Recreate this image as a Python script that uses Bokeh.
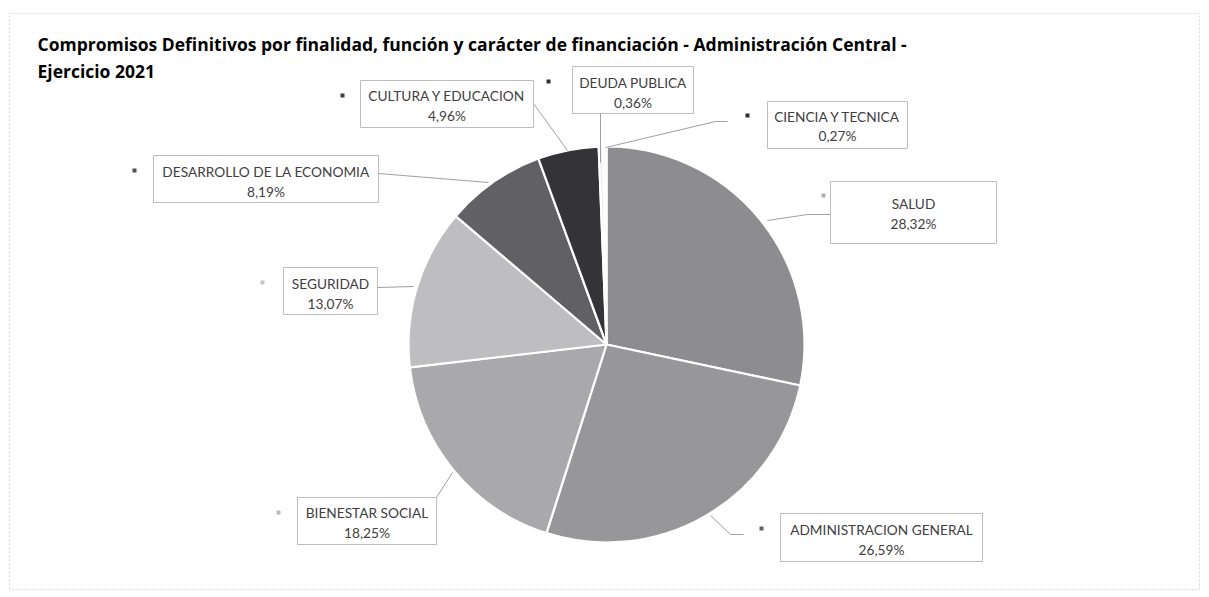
import numpy as np
from bokeh.plotting import figure
from bokeh.models import Range1d, ColumnDataSource
from bokeh.core.properties import value
from bokeh.embed import file_html
from bokeh.resources import INLINE

# ---------------- data ----------------
categories = ["SALUD", "ADMINISTRACION GENERAL", "BIENESTAR SOCIAL", "SEGURIDAD",
              "DESARROLLO DE LA ECONOMIA", "CULTURA Y EDUCACION", "DEUDA PUBLICA",
              "CIENCIA Y TECNICA"]
shares = [28.32, 26.59, 18.25, 13.07, 8.19, 4.96, 0.36, 0.27]
title_lines = ["Compromisos Definitivos por finalidad, función y carácter de financiación - Administración Central -",
               "Ejercicio 2021"]

# ---------------- style ----------------
slice_colors = ["#8d8d90", "#97979a", "#a9a9ab", "#bebec0", "#616165", "#333338", "#ececec", "#f4f4f4"]
key_colors = ["#b0b0b0", "#606060", "#b8b8b8", "#c4c4c4", "#505050", "#404040", "#303030", "#303030"]

W, H = 1200, 592
def X(px):
    return px
def Y(py):
    return H - py

# label layout in page pixels: box (left, right, top, bottom), text rows, key, leader
layout = {
    "SALUD": dict(box=(830, 996, 181, 243), rows=(203, 223), key=(823, 195),
                  leader=[(830, 214), (807, 214), (767, 220)]),
    "ADMINISTRACION GENERAL": dict(box=(780, 982, 513, 561), rows=(529, 549), key=(761, 528),
                                   leader=[(743, 534), (730, 534), (710, 515)]),
    "BIENESTAR SOCIAL": dict(box=(297, 436, 497, 544), rows=(512, 532), key=(278, 512),
                             leader=[(436, 497), (452, 472)]),
    "SEGURIDAD": dict(box=(283, 377, 267, 314), rows=(283, 303), key=(262, 282),
                      leader=[(377, 287), (413, 286)]),
    "DESARROLLO DE LA ECONOMIA": dict(box=(153, 378, 155, 202), rows=(171, 191), key=(134, 170),
                                      leader=[(378, 173), (488, 182)]),
    "CULTURA Y EDUCACION": dict(box=(360, 533, 80, 127), rows=(95, 115), key=(342, 95),
                                leader=[(533, 103), (567, 150)]),
    "DEUDA PUBLICA": dict(box=(572, 693, 66, 113), rows=(82, 102), key=(548, 81),
                          leader=[(600, 113), (600, 162)]),
    "CIENCIA Y TECNICA": dict(box=(767, 907, 101, 148), rows=(116, 135), key=(747, 115),
                              leader=[(727, 121), (715, 121), (605, 147)]),
}

p = figure(width=W, height=H, output_backend="svg", toolbar_location=None,
           x_range=Range1d(0, W), y_range=Range1d(0, H),
           x_axis_type=None, y_axis_type=None, min_border=0)
p.grid.visible = False
p.outline_line_color = None
p.background_fill_color = "white"

# chart frame
p.quad(left=[X(9)], right=[X(1199)], top=[Y(13)], bottom=[Y(589)],
       fill_color=None, line_color="#d6d6d6", line_width=1, line_dash="2 2")

# pie
total = float(sum(shares))
cum = np.concatenate([[0.0], np.cumsum(shares)]) / total
cx, cy, r = X(606), Y(344), 198
src = ColumnDataSource(dict(
    cat=categories,
    start=[np.pi / 2 - 2 * np.pi * cum[i + 1] for i in range(len(shares))],
    end=[np.pi / 2 - 2 * np.pi * cum[i] for i in range(len(shares))],
    color=slice_colors,
))
p.wedge(x=cx, y=cy, radius=r, start_angle="start", end_angle="end",
        direction="anticlock", fill_color="color", line_color="white", line_width=2.2,
        source=src)

# leader lines
xs, ys = [], []
for c in categories:
    pts = layout[c]["leader"]
    xs.append([X(a) for a, b in pts])
    ys.append([Y(b) for a, b in pts])
p.multi_line(xs=xs, ys=ys, line_color="#a0a0a0", line_width=1)

# label boxes
lb = dict(left=[], right=[], top=[], bottom=[], cx=[], y1=[], y2=[], kx=[], ky=[],
          name=[], val=[], kc=[])
for c, v, kc in zip(categories, shares, key_colors):
    L = layout[c]
    l, rr, t, b = L["box"]
    lb["left"].append(X(l)); lb["right"].append(X(rr))
    lb["top"].append(Y(t)); lb["bottom"].append(Y(b))
    lb["cx"].append(X((l + rr) / 2))
    lb["y1"].append(Y(L["rows"][0])); lb["y2"].append(Y(L["rows"][1]))
    lb["kx"].append(X(L["key"][0])); lb["ky"].append(Y(L["key"][1]))
    lb["name"].append(c)
    lb["val"].append(f"{v:.2f}".replace(".", ",") + "%")
    lb["kc"].append(kc)
ls = ColumnDataSource(lb)
p.quad(left="left", right="right", top="top", bottom="bottom", source=ls,
       fill_color="white", line_color="#bdbdbd", line_width=1)
p.text(x="cx", y="y1", text="name", source=ls, text_align="center", text_baseline="middle",
       text_font=value("Lato"), text_font_size="13.7px", text_color="#404040")
p.text(x="cx", y="y2", text="val", source=ls, text_align="center", text_baseline="middle",
       text_font=value("Lato"), text_font_size="13.7px", text_color="#404040")
p.scatter(x="kx", y="ky", source=ls, marker="square", size=4, fill_color="kc",
          line_color=None)

# title
p.text(x=[X(37), X(37)], y=[Y(43), Y(70)], text=title_lines, text_align="left",
       text_baseline="middle", text_font=value("Open Sans"), text_font_style="bold",
       text_font_size="17.5px", text_color="#000000")

open("out.html", "w").write(file_html(p, INLINE))
